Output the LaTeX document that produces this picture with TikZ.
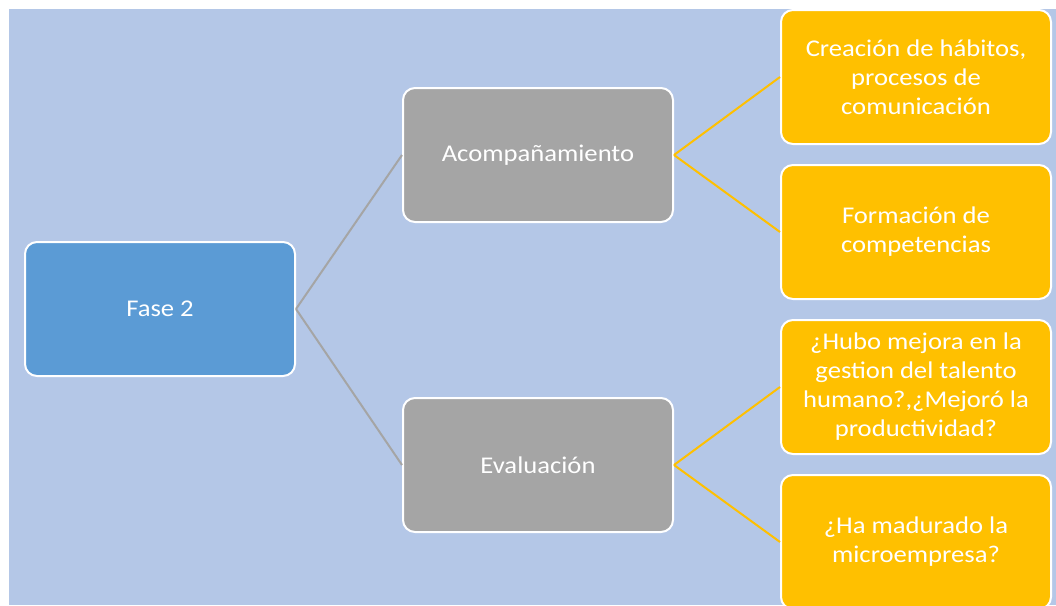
\documentclass[tikz,border=0pt]{standalone}
\usepackage{fontspec}
\setmainfont{Carlito}[FakeStretch=1.11]
\definecolor{bgblue}{HTML}{B4C7E7}
\definecolor{boxblue}{HTML}{5B9BD5}
\definecolor{boxgray}{HTML}{A5A5A5}
\definecolor{boxorange}{HTML}{FFC000}
\begin{document}
\begin{tikzpicture}[x=1pt,y=-1pt,
  box/.style={draw=white, line width=2pt, rounded corners=12pt, minimum width=270pt, minimum height=134pt,
    text=white, align=center, font=\fontsize{24}{29}\selectfont, inner sep=2pt},
  lvl1/.style={box, fill=boxblue},
  lvl2/.style={box, fill=boxgray},
  lvl3/.style={box, fill=boxorange},
  graylink/.style={draw=boxgray, line width=2pt},
  orangelink/.style={draw=boxorange, line width=2pt}]
\useasboundingbox (0,0) rectangle (1056,605);
\begin{scope}
\clip (0,0) rectangle (1056,605);
\fill[bgblue] (9,9) rectangle (1056,605);
\node[lvl1] (f2) at (160,309) {Fase 2};
\node[lvl2] (ac) at (538,155) {Acompañamiento};
\node[lvl2] (ev) at (538,465) {Evaluación};
\node[lvl3] (o1) at (916,77) {Creación de hábitos,\\ procesos de\\ comunicación};
\node[lvl3] (o2) at (916,232) {Formación de\\ competencias};
\node[lvl3] (o3) at (916,387) {¿Hubo mejora en la\\ gestion del talento\\ humano?,¿Mejoró la\\ productividad?};
\node[lvl3] (o4) at (916,542) {¿Ha madurado la\\ microempresa?};
\draw[graylink] (f2.east) -- (ac.west);
\draw[graylink] (f2.east) -- (ev.west);
\draw[orangelink] (ac.east) -- (o1.west);
\draw[orangelink] (ac.east) -- (o2.west);
\draw[orangelink] (ev.east) -- (o3.west);
\draw[orangelink] (ev.east) -- (o4.west);
\end{scope}
\end{tikzpicture}
\end{document}
